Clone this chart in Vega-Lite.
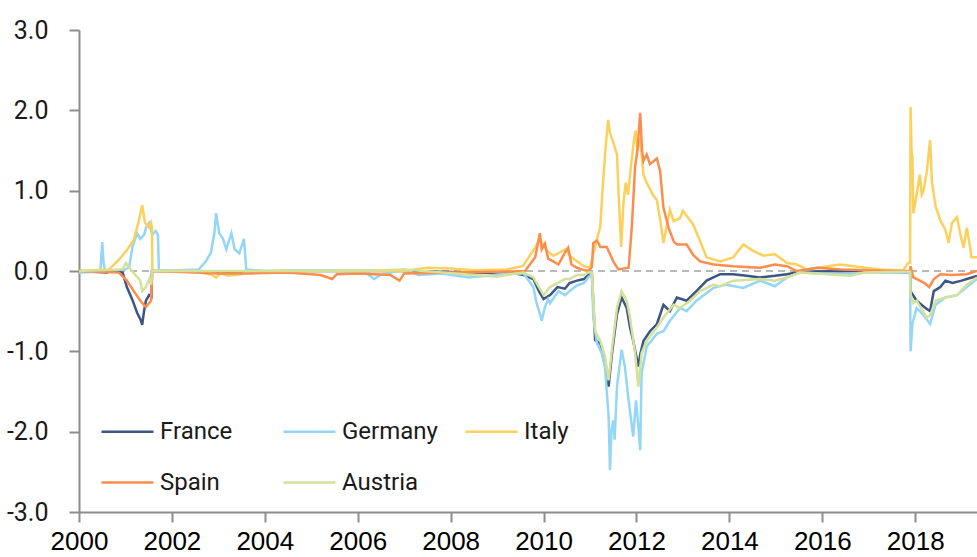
{
  "$schema": "https://vega.github.io/schema/vega-lite/v6.json",
  "width": 898,
  "height": 482,
  "autosize": {"type": "none"},
  "padding": {"left": 79, "top": 30, "right": 0, "bottom": 45},
  "background": "white",
  "config": {"view": {"stroke": null}},
  "layer": [
    {
      "data": {"values": [{"y": 0}]},
      "mark": {"type": "rule", "color": "#b8b8b8", "strokeWidth": 2, "strokeDash": [7, 5]},
      "encoding": {"y": {"field": "y", "type": "quantitative", "scale": {"domain": [-3, 3], "nice": false}}}
    },
    {
      "data": {"values": [
        {"t":2000.0,"c":"France","v":0},{"t":2000.6,"c":"France","v":-0.02},{"t":2000.7,"c":"France","v":0},{"t":2000.94,"c":"France","v":-0.02},{"t":2001.03,"c":"France","v":-0.2},{"t":2001.15,"c":"France","v":-0.36},{"t":2001.25,"c":"France","v":-0.52},{"t":2001.32,"c":"France","v":-0.6},{"t":2001.36,"c":"France","v":-0.67},{"t":2001.4,"c":"France","v":-0.5},{"t":2001.44,"c":"France","v":-0.37},{"t":2001.51,"c":"France","v":-0.3},{"t":2001.56,"c":"France","v":-0.32},{"t":2001.57,"c":"France","v":0},{"t":2002.5,"c":"France","v":0},{"t":2002.9,"c":"France","v":-0.02},{"t":2003.5,"c":"France","v":-0.01},{"t":2004.5,"c":"France","v":0},{"t":2007.0,"c":"France","v":0},{"t":2008.5,"c":"France","v":-0.02},{"t":2009.4,"c":"France","v":-0.03},{"t":2009.57,"c":"France","v":-0.05},{"t":2009.78,"c":"France","v":-0.1},{"t":2009.9,"c":"France","v":-0.25},{"t":2010.0,"c":"France","v":-0.35},{"t":2010.14,"c":"France","v":-0.3},{"t":2010.3,"c":"France","v":-0.2},{"t":2010.46,"c":"France","v":-0.22},{"t":2010.56,"c":"France","v":-0.15},{"t":2010.72,"c":"France","v":-0.12},{"t":2010.87,"c":"France","v":-0.1},{"t":2010.96,"c":"France","v":-0.05},{"t":2011.04,"c":"France","v":-0.03},{"t":2011.11,"c":"France","v":-0.86},{"t":2011.22,"c":"France","v":-0.9},{"t":2011.32,"c":"France","v":-1.1},{"t":2011.4,"c":"France","v":-1.44},{"t":2011.47,"c":"France","v":-1.04},{"t":2011.58,"c":"France","v":-0.54},{"t":2011.68,"c":"France","v":-0.33},{"t":2011.79,"c":"France","v":-0.46},{"t":2011.86,"c":"France","v":-0.7},{"t":2011.93,"c":"France","v":-0.87},{"t":2012.04,"c":"France","v":-1.19},{"t":2012.08,"c":"France","v":-1.04},{"t":2012.15,"c":"France","v":-0.87},{"t":2012.29,"c":"France","v":-0.75},{"t":2012.44,"c":"France","v":-0.66},{"t":2012.58,"c":"France","v":-0.42},{"t":2012.72,"c":"France","v":-0.5},{"t":2012.87,"c":"France","v":-0.33},{"t":2013.08,"c":"France","v":-0.37},{"t":2013.29,"c":"France","v":-0.25},{"t":2013.51,"c":"France","v":-0.12},{"t":2013.8,"c":"France","v":-0.04},{"t":2014.08,"c":"France","v":-0.04},{"t":2014.37,"c":"France","v":-0.06},{"t":2014.66,"c":"France","v":-0.08},{"t":2014.98,"c":"France","v":-0.06},{"t":2015.24,"c":"France","v":-0.04},{"t":2015.52,"c":"France","v":-0.01},{"t":2016.5,"c":"France","v":0},{"t":2017.89,"c":"France","v":-0.02},{"t":2017.9,"c":"France","v":-0.25},{"t":2017.94,"c":"France","v":-0.29},{"t":2018.03,"c":"France","v":-0.37},{"t":2018.2,"c":"France","v":-0.45},{"t":2018.32,"c":"France","v":-0.5},{"t":2018.4,"c":"France","v":-0.25},{"t":2018.54,"c":"France","v":-0.2},{"t":2018.65,"c":"France","v":-0.12},{"t":2018.8,"c":"France","v":-0.15},{"t":2019.0,"c":"France","v":-0.12},{"t":2019.11,"c":"France","v":-0.1},{"t":2019.33,"c":"France","v":-0.06},

        {"t":2000.0,"c":"Germany","v":-0.02},{"t":2000.4,"c":"Germany","v":-0.01},{"t":2000.46,"c":"Germany","v":0},{"t":2000.5,"c":"Germany","v":0.36},{"t":2000.53,"c":"Germany","v":0.1},{"t":2000.56,"c":"Germany","v":0},{"t":2001.0,"c":"Germany","v":0.02},{"t":2001.08,"c":"Germany","v":0.05},{"t":2001.15,"c":"Germany","v":0.3},{"t":2001.25,"c":"Germany","v":0.47},{"t":2001.32,"c":"Germany","v":0.4},{"t":2001.4,"c":"Germany","v":0.45},{"t":2001.45,"c":"Germany","v":0.55},{"t":2001.51,"c":"Germany","v":0.6},{"t":2001.58,"c":"Germany","v":0.45},{"t":2001.65,"c":"Germany","v":0.5},{"t":2001.7,"c":"Germany","v":0.45},{"t":2001.72,"c":"Germany","v":0},{"t":2002.58,"c":"Germany","v":0.02},{"t":2002.73,"c":"Germany","v":0.12},{"t":2002.84,"c":"Germany","v":0.23},{"t":2002.92,"c":"Germany","v":0.5},{"t":2002.95,"c":"Germany","v":0.72},{"t":2003.02,"c":"Germany","v":0.47},{"t":2003.1,"c":"Germany","v":0.4},{"t":2003.17,"c":"Germany","v":0.27},{"t":2003.28,"c":"Germany","v":0.47},{"t":2003.35,"c":"Germany","v":0.27},{"t":2003.45,"c":"Germany","v":0.22},{"t":2003.55,"c":"Germany","v":0.4},{"t":2003.6,"c":"Germany","v":0.02},{"t":2004.0,"c":"Germany","v":0},{"t":2005.5,"c":"Germany","v":0},{"t":2006.2,"c":"Germany","v":-0.03},{"t":2006.35,"c":"Germany","v":-0.1},{"t":2006.5,"c":"Germany","v":-0.05},{"t":2007.0,"c":"Germany","v":0.02},{"t":2007.3,"c":"Germany","v":-0.05},{"t":2007.8,"c":"Germany","v":-0.03},{"t":2008.4,"c":"Germany","v":-0.08},{"t":2008.8,"c":"Germany","v":-0.06},{"t":2009.2,"c":"Germany","v":-0.03},{"t":2009.57,"c":"Germany","v":-0.03},{"t":2009.78,"c":"Germany","v":-0.2},{"t":2009.85,"c":"Germany","v":-0.4},{"t":2009.93,"c":"Germany","v":-0.55},{"t":2009.96,"c":"Germany","v":-0.62},{"t":2010.03,"c":"Germany","v":-0.45},{"t":2010.1,"c":"Germany","v":-0.35},{"t":2010.14,"c":"Germany","v":-0.4},{"t":2010.32,"c":"Germany","v":-0.25},{"t":2010.46,"c":"Germany","v":-0.3},{"t":2010.56,"c":"Germany","v":-0.25},{"t":2010.72,"c":"Germany","v":-0.18},{"t":2010.87,"c":"Germany","v":-0.15},{"t":2010.96,"c":"Germany","v":-0.08},{"t":2011.04,"c":"Germany","v":-0.04},{"t":2011.07,"c":"Germany","v":-0.58},{"t":2011.15,"c":"Germany","v":-0.9},{"t":2011.25,"c":"Germany","v":-1.02},{"t":2011.32,"c":"Germany","v":-1.19},{"t":2011.4,"c":"Germany","v":-1.81},{"t":2011.43,"c":"Germany","v":-2.48},{"t":2011.46,"c":"Germany","v":-2.0},{"t":2011.5,"c":"Germany","v":-1.86},{"t":2011.53,"c":"Germany","v":-2.1},{"t":2011.58,"c":"Germany","v":-1.44},{"t":2011.68,"c":"Germany","v":-0.98},{"t":2011.75,"c":"Germany","v":-1.19},{"t":2011.83,"c":"Germany","v":-1.61},{"t":2011.93,"c":"Germany","v":-2.06},{"t":2011.99,"c":"Germany","v":-1.61},{"t":2012.05,"c":"Germany","v":-2.0},{"t":2012.08,"c":"Germany","v":-2.23},{"t":2012.11,"c":"Germany","v":-1.27},{"t":2012.22,"c":"Germany","v":-0.94},{"t":2012.44,"c":"Germany","v":-0.78},{"t":2012.58,"c":"Germany","v":-0.75},{"t":2012.72,"c":"Germany","v":-0.62},{"t":2012.94,"c":"Germany","v":-0.46},{"t":2013.08,"c":"Germany","v":-0.5},{"t":2013.29,"c":"Germany","v":-0.37},{"t":2013.66,"c":"Germany","v":-0.21},{"t":2013.94,"c":"Germany","v":-0.17},{"t":2014.3,"c":"Germany","v":-0.21},{"t":2014.66,"c":"Germany","v":-0.12},{"t":2014.98,"c":"Germany","v":-0.19},{"t":2015.24,"c":"Germany","v":-0.08},{"t":2015.52,"c":"Germany","v":-0.02},{"t":2016.38,"c":"Germany","v":-0.04},{"t":2017.0,"c":"Germany","v":-0.02},{"t":2017.89,"c":"Germany","v":-0.02},{"t":2017.9,"c":"Germany","v":-1.0},{"t":2017.94,"c":"Germany","v":-0.66},{"t":2018.03,"c":"Germany","v":-0.46},{"t":2018.18,"c":"Germany","v":-0.55},{"t":2018.32,"c":"Germany","v":-0.66},{"t":2018.44,"c":"Germany","v":-0.42},{"t":2018.65,"c":"Germany","v":-0.33},{"t":2018.9,"c":"Germany","v":-0.3},{"t":2019.11,"c":"Germany","v":-0.2},{"t":2019.33,"c":"Germany","v":-0.1},

        {"t":2000.0,"c":"Italy","v":0},{"t":2000.65,"c":"Italy","v":0.02},{"t":2000.86,"c":"Italy","v":0.14},{"t":2001.03,"c":"Italy","v":0.26},{"t":2001.18,"c":"Italy","v":0.39},{"t":2001.29,"c":"Italy","v":0.63},{"t":2001.36,"c":"Italy","v":0.82},{"t":2001.42,"c":"Italy","v":0.6},{"t":2001.51,"c":"Italy","v":0.54},{"t":2001.55,"c":"Italy","v":0.6},{"t":2001.57,"c":"Italy","v":0.55},{"t":2001.58,"c":"Italy","v":0},{"t":2002.5,"c":"Italy","v":0},{"t":2002.87,"c":"Italy","v":-0.05},{"t":2002.95,"c":"Italy","v":-0.08},{"t":2003.05,"c":"Italy","v":-0.03},{"t":2003.2,"c":"Italy","v":-0.06},{"t":2003.5,"c":"Italy","v":-0.04},{"t":2003.7,"c":"Italy","v":0},{"t":2007.0,"c":"Italy","v":0},{"t":2007.5,"c":"Italy","v":0.04},{"t":2008.0,"c":"Italy","v":0.03},{"t":2008.5,"c":"Italy","v":0.01},{"t":2009.2,"c":"Italy","v":0.02},{"t":2009.55,"c":"Italy","v":0.06},{"t":2009.82,"c":"Italy","v":0.29},{"t":2009.92,"c":"Italy","v":0.4},{"t":2010.07,"c":"Italy","v":0.25},{"t":2010.21,"c":"Italy","v":0.19},{"t":2010.35,"c":"Italy","v":0.23},{"t":2010.46,"c":"Italy","v":0.27},{"t":2010.6,"c":"Italy","v":0.17},{"t":2010.72,"c":"Italy","v":0.12},{"t":2010.87,"c":"Italy","v":0.06},{"t":2011.0,"c":"Italy","v":0.04},{"t":2011.15,"c":"Italy","v":0.4},{"t":2011.22,"c":"Italy","v":0.55},{"t":2011.28,"c":"Italy","v":1.1},{"t":2011.33,"c":"Italy","v":1.5},{"t":2011.39,"c":"Italy","v":1.88},{"t":2011.43,"c":"Italy","v":1.72},{"t":2011.5,"c":"Italy","v":1.6},{"t":2011.58,"c":"Italy","v":1.45},{"t":2011.62,"c":"Italy","v":0.9},{"t":2011.67,"c":"Italy","v":0.3},{"t":2011.72,"c":"Italy","v":0.85},{"t":2011.77,"c":"Italy","v":1.1},{"t":2011.82,"c":"Italy","v":0.95},{"t":2011.88,"c":"Italy","v":1.3},{"t":2011.95,"c":"Italy","v":1.65},{"t":2011.98,"c":"Italy","v":1.75},{"t":2012.02,"c":"Italy","v":1.5},{"t":2012.08,"c":"Italy","v":1.65},{"t":2012.15,"c":"Italy","v":1.2},{"t":2012.22,"c":"Italy","v":1.1},{"t":2012.35,"c":"Italy","v":0.95},{"t":2012.44,"c":"Italy","v":0.88},{"t":2012.52,"c":"Italy","v":0.6},{"t":2012.58,"c":"Italy","v":0.35},{"t":2012.72,"c":"Italy","v":0.76},{"t":2012.8,"c":"Italy","v":0.62},{"t":2012.94,"c":"Italy","v":0.66},{"t":2013.0,"c":"Italy","v":0.75},{"t":2013.22,"c":"Italy","v":0.58},{"t":2013.37,"c":"Italy","v":0.37},{"t":2013.51,"c":"Italy","v":0.17},{"t":2013.8,"c":"Italy","v":0.12},{"t":2014.08,"c":"Italy","v":0.17},{"t":2014.3,"c":"Italy","v":0.33},{"t":2014.51,"c":"Italy","v":0.25},{"t":2014.73,"c":"Italy","v":0.19},{"t":2014.98,"c":"Italy","v":0.21},{"t":2015.24,"c":"Italy","v":0.1},{"t":2015.45,"c":"Italy","v":0.08},{"t":2015.67,"c":"Italy","v":0.02},{"t":2016.38,"c":"Italy","v":0.08},{"t":2016.67,"c":"Italy","v":0.06},{"t":2017.24,"c":"Italy","v":0.02},{"t":2017.74,"c":"Italy","v":0.01},{"t":2017.85,"c":"Italy","v":0.1},{"t":2017.89,"c":"Italy","v":0.1},{"t":2017.9,"c":"Italy","v":2.04},{"t":2017.92,"c":"Italy","v":1.5},{"t":2017.94,"c":"Italy","v":1.42},{"t":2017.96,"c":"Italy","v":0.72},{"t":2018.03,"c":"Italy","v":0.95},{"t":2018.1,"c":"Italy","v":1.2},{"t":2018.14,"c":"Italy","v":0.95},{"t":2018.18,"c":"Italy","v":1.0},{"t":2018.25,"c":"Italy","v":1.24},{"t":2018.32,"c":"Italy","v":1.63},{"t":2018.36,"c":"Italy","v":1.1},{"t":2018.44,"c":"Italy","v":0.8},{"t":2018.54,"c":"Italy","v":0.63},{"t":2018.65,"c":"Italy","v":0.51},{"t":2018.72,"c":"Italy","v":0.35},{"t":2018.79,"c":"Italy","v":0.6},{"t":2018.9,"c":"Italy","v":0.67},{"t":2018.97,"c":"Italy","v":0.46},{"t":2019.04,"c":"Italy","v":0.29},{"t":2019.11,"c":"Italy","v":0.54},{"t":2019.18,"c":"Italy","v":0.3},{"t":2019.21,"c":"Italy","v":0.17},{"t":2019.33,"c":"Italy","v":0.17},

        {"t":2000.0,"c":"Spain","v":0},{"t":2000.86,"c":"Spain","v":-0.02},{"t":2001.03,"c":"Spain","v":-0.12},{"t":2001.18,"c":"Spain","v":-0.25},{"t":2001.32,"c":"Spain","v":-0.37},{"t":2001.44,"c":"Spain","v":-0.45},{"t":2001.55,"c":"Spain","v":-0.37},{"t":2001.58,"c":"Spain","v":0},{"t":2002.5,"c":"Spain","v":-0.02},{"t":2003.0,"c":"Spain","v":-0.03},{"t":2003.7,"c":"Spain","v":-0.03},{"t":2004.5,"c":"Spain","v":-0.02},{"t":2005.2,"c":"Spain","v":-0.05},{"t":2005.45,"c":"Spain","v":-0.1},{"t":2005.55,"c":"Spain","v":-0.04},{"t":2006.0,"c":"Spain","v":-0.03},{"t":2006.7,"c":"Spain","v":-0.05},{"t":2006.9,"c":"Spain","v":-0.12},{"t":2007.0,"c":"Spain","v":-0.03},{"t":2008.0,"c":"Spain","v":-0.02},{"t":2009.0,"c":"Spain","v":-0.01},{"t":2009.6,"c":"Spain","v":0},{"t":2009.82,"c":"Spain","v":0.17},{"t":2009.92,"c":"Spain","v":0.47},{"t":2009.96,"c":"Spain","v":0.27},{"t":2010.03,"c":"Spain","v":0.34},{"t":2010.1,"c":"Spain","v":0.15},{"t":2010.21,"c":"Spain","v":0.12},{"t":2010.32,"c":"Spain","v":0.08},{"t":2010.46,"c":"Spain","v":0.23},{"t":2010.53,"c":"Spain","v":0.29},{"t":2010.6,"c":"Spain","v":0.08},{"t":2010.72,"c":"Spain","v":0.04},{"t":2010.82,"c":"Spain","v":0.02},{"t":2010.96,"c":"Spain","v":0},{"t":2011.04,"c":"Spain","v":0.05},{"t":2011.07,"c":"Spain","v":0.35},{"t":2011.15,"c":"Spain","v":0.38},{"t":2011.22,"c":"Spain","v":0.3},{"t":2011.36,"c":"Spain","v":0.3},{"t":2011.5,"c":"Spain","v":0.12},{"t":2011.61,"c":"Spain","v":0.02},{"t":2011.83,"c":"Spain","v":0.04},{"t":2011.9,"c":"Spain","v":0.55},{"t":2011.97,"c":"Spain","v":1.3},{"t":2012.02,"c":"Spain","v":1.5},{"t":2012.08,"c":"Spain","v":1.97},{"t":2012.12,"c":"Spain","v":1.5},{"t":2012.15,"c":"Spain","v":1.37},{"t":2012.22,"c":"Spain","v":1.45},{"t":2012.29,"c":"Spain","v":1.33},{"t":2012.44,"c":"Spain","v":1.4},{"t":2012.51,"c":"Spain","v":1.24},{"t":2012.58,"c":"Spain","v":0.79},{"t":2012.69,"c":"Spain","v":0.54},{"t":2012.8,"c":"Spain","v":0.37},{"t":2012.87,"c":"Spain","v":0.33},{"t":2013.08,"c":"Spain","v":0.33},{"t":2013.22,"c":"Spain","v":0.2},{"t":2013.37,"c":"Spain","v":0.12},{"t":2013.66,"c":"Spain","v":0.08},{"t":2014.08,"c":"Spain","v":0.06},{"t":2014.66,"c":"Spain","v":0.04},{"t":2014.98,"c":"Spain","v":0.08},{"t":2015.24,"c":"Spain","v":0.06},{"t":2015.45,"c":"Spain","v":0},{"t":2015.9,"c":"Spain","v":0.04},{"t":2016.4,"c":"Spain","v":0.02},{"t":2017.5,"c":"Spain","v":0},{"t":2017.89,"c":"Spain","v":0},{"t":2017.9,"c":"Spain","v":0.06},{"t":2017.96,"c":"Spain","v":-0.08},{"t":2018.1,"c":"Spain","v":-0.12},{"t":2018.2,"c":"Spain","v":-0.15},{"t":2018.3,"c":"Spain","v":-0.2},{"t":2018.4,"c":"Spain","v":-0.1},{"t":2018.54,"c":"Spain","v":-0.04},{"t":2018.8,"c":"Spain","v":-0.05},{"t":2019.11,"c":"Spain","v":-0.04},{"t":2019.33,"c":"Spain","v":0},

        {"t":2000.0,"c":"Austria","v":0},{"t":2000.93,"c":"Austria","v":0.02},{"t":2001.01,"c":"Austria","v":0.1},{"t":2001.07,"c":"Austria","v":0.05},{"t":2001.2,"c":"Austria","v":-0.04},{"t":2001.32,"c":"Austria","v":-0.12},{"t":2001.36,"c":"Austria","v":-0.25},{"t":2001.44,"c":"Austria","v":-0.2},{"t":2001.51,"c":"Austria","v":-0.1},{"t":2001.55,"c":"Austria","v":-0.17},{"t":2001.58,"c":"Austria","v":0},{"t":2004.0,"c":"Austria","v":0},{"t":2006.0,"c":"Austria","v":0},{"t":2007.0,"c":"Austria","v":0.02},{"t":2008.5,"c":"Austria","v":-0.05},{"t":2009.0,"c":"Austria","v":-0.07},{"t":2009.3,"c":"Austria","v":-0.04},{"t":2009.57,"c":"Austria","v":-0.02},{"t":2009.78,"c":"Austria","v":-0.08},{"t":2009.9,"c":"Austria","v":-0.2},{"t":2010.0,"c":"Austria","v":-0.3},{"t":2010.14,"c":"Austria","v":-0.2},{"t":2010.3,"c":"Austria","v":-0.15},{"t":2010.46,"c":"Austria","v":-0.1},{"t":2010.56,"c":"Austria","v":-0.1},{"t":2010.72,"c":"Austria","v":-0.05},{"t":2010.87,"c":"Austria","v":-0.05},{"t":2010.96,"c":"Austria","v":-0.02},{"t":2011.04,"c":"Austria","v":-0.02},{"t":2011.11,"c":"Austria","v":-0.75},{"t":2011.22,"c":"Austria","v":-0.87},{"t":2011.32,"c":"Austria","v":-1.06},{"t":2011.4,"c":"Austria","v":-1.36},{"t":2011.47,"c":"Austria","v":-0.98},{"t":2011.58,"c":"Austria","v":-0.46},{"t":2011.68,"c":"Austria","v":-0.25},{"t":2011.79,"c":"Austria","v":-0.37},{"t":2011.86,"c":"Austria","v":-0.58},{"t":2011.97,"c":"Austria","v":-1.02},{"t":2012.04,"c":"Austria","v":-1.44},{"t":2012.11,"c":"Austria","v":-1.02},{"t":2012.22,"c":"Austria","v":-0.87},{"t":2012.44,"c":"Austria","v":-0.7},{"t":2012.58,"c":"Austria","v":-0.58},{"t":2012.8,"c":"Austria","v":-0.42},{"t":2012.94,"c":"Austria","v":-0.46},{"t":2013.15,"c":"Austria","v":-0.37},{"t":2013.37,"c":"Austria","v":-0.25},{"t":2013.66,"c":"Austria","v":-0.17},{"t":2013.8,"c":"Austria","v":-0.19},{"t":2014.08,"c":"Austria","v":-0.12},{"t":2014.66,"c":"Austria","v":-0.1},{"t":2014.98,"c":"Austria","v":-0.12},{"t":2015.24,"c":"Austria","v":-0.08},{"t":2015.52,"c":"Austria","v":-0.02},{"t":2016.6,"c":"Austria","v":-0.06},{"t":2016.9,"c":"Austria","v":-0.02},{"t":2017.74,"c":"Austria","v":-0.01},{"t":2017.89,"c":"Austria","v":-0.01},{"t":2017.9,"c":"Austria","v":-0.29},{"t":2017.96,"c":"Austria","v":-0.4},{"t":2018.03,"c":"Austria","v":-0.37},{"t":2018.25,"c":"Austria","v":-0.58},{"t":2018.32,"c":"Austria","v":-0.55},{"t":2018.44,"c":"Austria","v":-0.37},{"t":2018.65,"c":"Austria","v":-0.33},{"t":2018.9,"c":"Austria","v":-0.3},{"t":2019.11,"c":"Austria","v":-0.17},{"t":2019.33,"c":"Austria","v":-0.08}
      ]},
      "mark": {"type": "line", "strokeWidth": 2.5, "clip": true},
      "encoding": {
        "x": {
          "field": "t", "type": "quantitative",
          "scale": {"domain": [2000, 2019.33], "nice": false, "zero": false},
          "axis": {
            "title": null, "values": [2000, 2002, 2004, 2006, 2008, 2010, 2012, 2014, 2016, 2018],
            "format": "d", "grid": false,
            "domainColor": "#8c8c8c", "domainWidth": 2, "tickColor": "#8c8c8c", "tickWidth": 2, "tickSize": 10,
            "labelFont": "Liberation Sans", "labelFontSize": 26, "labelColor": "#000000", "labelPadding": 6,
            "labelFlush": false, "labelOverlap": false
          }
        },
        "y": {
          "field": "v", "type": "quantitative",
          "scale": {"domain": [-3, 3], "nice": false},
          "axis": {
            "title": null, "values": [-3, -2, -1, 0, 1, 2, 3],
            "labelExpr": "datum.value < 0 ? '-' + format(-datum.value, '.1f') : format(datum.value, '.1f')",
            "grid": false,
            "domainColor": "#8c8c8c", "domainWidth": 2, "tickColor": "#8c8c8c", "tickWidth": 2, "tickSize": 10,
            "labelFont": "Roboto", "labelFontSize": 25, "labelColor": "#1a1a1a", "labelPadding": 21
          }
        },
        "color": {
          "field": "c", "type": "nominal",
          "scale": {
            "domain": ["France", "Germany", "Italy", "Spain", "Austria"],
            "range": ["#3b5584", "#94d6f6", "#fcd05c", "#fd8d4c", "#d3e19a"]
          },
          "legend": {
            "title": null, "orient": "none", "legendX": 21, "legendY": 374,
            "direction": "horizontal", "columns": 3, "gridAlign": "all",
            "symbolType": "stroke", "symbolSize": 2704, "symbolStrokeWidth": 2.5,
            "labelFont": "Roboto", "labelFontSize": 24, "labelColor": "#1a1a1a", "labelOffset": 5, "labelLimit": 0,
            "columnPadding": 22, "rowPadding": 11, "padding": 0
          }
        }
      }
    }
  ]
}
